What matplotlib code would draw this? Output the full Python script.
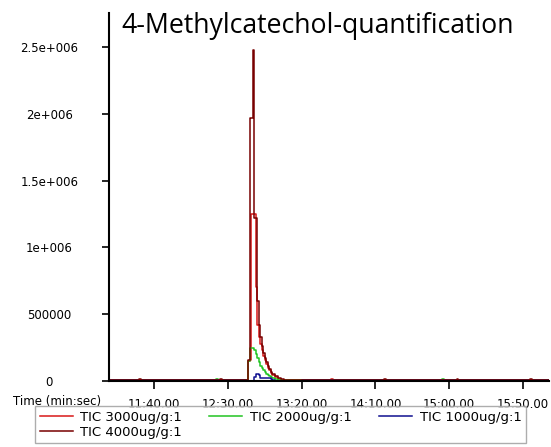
import matplotlib
matplotlib.use("Agg")
import matplotlib.pyplot as plt
from matplotlib.ticker import FixedLocator, FixedFormatter

# retention time in seconds, intensity in counts
peak_t = [762, 764, 765, 766, 767, 768, 769, 770, 771, 772, 773, 774, 775, 776,
          777, 778, 779, 780, 782, 784, 786, 788, 790]
tic_4000 = [5000, 160000, 1970000, 1970000, 2480000, 1220000, 1220000, 600000, 420000,
            330000, 260000, 210000, 170000, 140000, 110000, 90000, 70000, 55000,
            35000, 20000, 12000, 6000, 5000]
tic_3000 = [5000, 150000, 160000, 1250000, 1250000, 1250000, 700000, 420000, 330000,
            280000, 230000, 190000, 160000, 130000, 100000, 80000, 60000, 45000,
            28000, 15000, 8000, 5000, 4000]
tic_2000 = [4000, 150000, 250000, 250000, 250000, 230000, 200000, 170000, 140000,
            115000, 95000, 80000, 65000, 50000, 42000, 35000, 28000, 22000,
            14000, 8000, 5000, 4000, 4000]
tic_1000 = [3000, 3000, 3000, 3000, 3000, 30000, 55000, 55000, 45000, 25000, 20000,
            20000, 20000, 20000, 20000, 20000, 15000, 5000, 3000, 3000, 3000, 3000, 3000]

# small spikes on the baseline (time, height)
bumps_4000 = [(690, 14000), (745, 12000), (856, 15000), (905, 12000), (955, 14000)]
bumps_3000 = [(715, 10000), (820, 12000), (870, 11000), (935, 10000)]
bumps_2000 = [(742, 12000), (895, 12000), (925, 10000), (960, 9000)]
bumps_1000 = [(733, 8000), (800, 7000), (880, 8000)]

series = [("TIC 3000ug/g:1", tic_3000, bumps_3000, "#d81818"),
          ("TIC 2000ug/g:1", tic_2000, bumps_2000, "#22c322"),
          ("TIC 1000ug/g:1", tic_1000, bumps_1000, "#101090"),
          ("TIC 4000ug/g:1", tic_4000, bumps_4000, "#780000")]

xticks = [700, 750, 800, 850, 900, 950]
xlabels = ["11:40.00", "12:30.00", "13:20.00", "14:10.00", "15:00.00", "15:50.00"]
yticks = [0, 500000, 1000000, 1500000, 2000000, 2500000]
ylabels = ["0", "500000", "1e+006", "1.5e+006", "2e+006", "2.5e+006"]

W, H = 551, 447
fig = plt.figure(figsize=(W / 100, H / 100), dpi=100)
ax = fig.add_axes([109 / W, (H - 381) / H, 440 / W, 368 / H])

handles = {}
for name, vals, bumps, col in series:
    pts = [(669, 4000)] + list(zip(peak_t, vals)) + [(968, 4000)]
    for bt, bh in bumps:
        pts += [(bt, bh), (bt + 1.2, 4000)]
    pts.sort()
    ts = [p[0] for p in pts]
    vs = [p[1] for p in pts]
    ln, = ax.plot(ts, vs, drawstyle="steps-post", color=col, lw=1.1, label=name)
    handles[name] = ln

ax.set_xlim(669.5, 967.6)
ax.set_ylim(0, 2.754e6)

for s in ["top", "right"]:
    ax.spines[s].set_visible(False)
for s in ["left", "bottom"]:
    ax.spines[s].set_linewidth(1.5)

ax.xaxis.set_major_locator(FixedLocator(xticks))
ax.xaxis.set_major_formatter(FixedFormatter(xlabels))
ax.yaxis.set_major_locator(FixedLocator(yticks))
ax.yaxis.set_major_formatter(FixedFormatter(ylabels))
ax.tick_params(axis="x", direction="out", length=6, width=1.2, labelsize=8.5, pad=6)
ax.tick_params(axis="y", direction="out", length=5, width=1.2, labelsize=8.5, pad=38)
for lb in ax.get_yticklabels():
    lb.set_horizontalalignment("center")

fig.text(57 / W, 1 - 402 / H, "Time (min:sec)", ha="center", va="center", fontsize=8.5)
fig.text(121 / W, 1 - 26 / H, "4-Methylcatechol-quantification", ha="left", va="center",
         fontsize=19.2, family="Open Sans")

order = ["TIC 3000ug/g:1", "TIC 4000ug/g:1", "TIC 2000ug/g:1", "TIC 1000ug/g:1"]
leg = ax.legend([handles[n] for n in order], order, ncol=3, fontsize=9.5,
                loc="upper left", bbox_to_anchor=(35 / W, 1 - 406 / H),
                bbox_transform=fig.transFigure, frameon=True, fancybox=False,
                borderaxespad=0, handlelength=2.5, handletextpad=0.55,
                columnspacing=2.1, labelspacing=0.15, borderpad=0.35)
leg.get_frame().set_edgecolor("#999999")
leg.get_frame().set_linewidth(1.0)

fig.savefig("out.png", dpi=100)
